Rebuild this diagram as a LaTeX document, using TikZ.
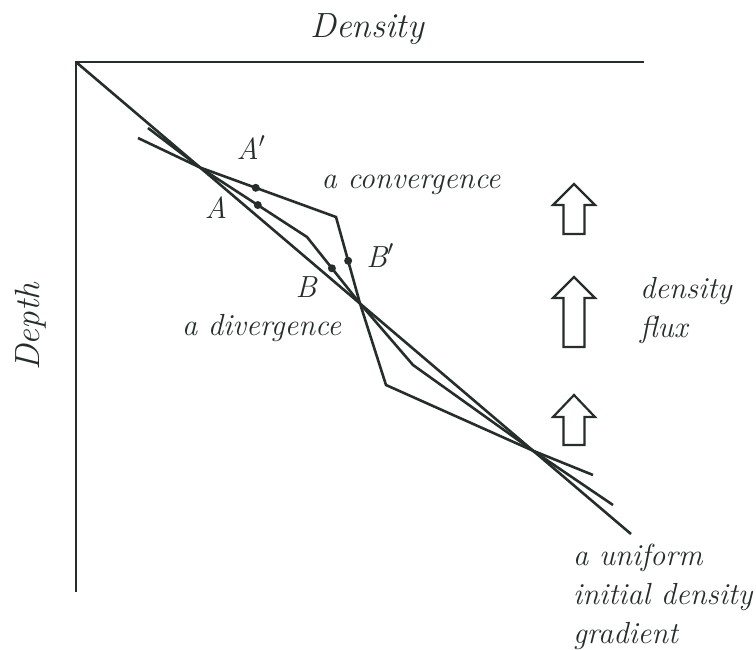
\documentclass[tikz,border=0pt]{standalone}
\usepackage{fix-cm}
\usepackage{fontspec}
\usetikzlibrary{calc}
\definecolor{ink}{RGB}{38,46,44}
\newcommand{\fluxarrow}[3]{%
  \draw[flux] (574,#1) -- (595,#2) -- (584.5,#2) -- (584.5,#3) -- (563.5,#3) -- (563.5,#2) -- (553,#2) -- cycle;}
\begin{document}
\begin{tikzpicture}[x=1pt,y=-1pt,
  ln/.style={draw=ink, line width=2.6pt, line join=miter},
  lbl/.style={font=\fontsize{30.5}{36}\selectfont\itshape, text=ink, inner sep=0pt, anchor=base},
  big/.style={font=\fontsize{35}{40}\selectfont\itshape, text=ink, inner sep=0pt},
  dotst/.style={circle, fill=ink, inner sep=0pt, minimum size=8pt},
  flux/.style={draw=ink, line width=2.2pt, fill=white, line join=miter}]
\useasboundingbox (0,0) rectangle (756,649);

% axes
\coordinate (O) at (76,62);
\coordinate (XE) at (644,62);
\coordinate (YE) at (76,592);
\draw[ln] (XE) -- (O) -- (YE);

% crossing points on the uniform gradient line
\coordinate (S) at (631,534);
\coordinate (X1) at (200,167.5);
\coordinate (X2) at (360,303.5);
\coordinate (X3) at (533,450.7);

% uniform initial gradient
\draw[ln] (O) -- (S);

% convergence profile
\coordinate (C0) at (138,138);
\coordinate (C1) at (336,217);
\coordinate (C2) at (386,385);
\coordinate (C3) at (593,475);
\draw[ln] (C0) -- (X1) -- (C1) -- (X2) -- (C2) -- (X3) -- (C3);

% divergence profile
\coordinate (D0) at (148,128);
\coordinate (D1) at (307,237);
\coordinate (D2) at (413,365);
\coordinate (D3) at (613,505);
\draw[ln] (D0) -- (X1) -- (D1) -- (X2) -- (D2) -- (X3) -- (D3);

% dots
\node[dotst] (pAp) at ($(X1)!0.41!(C1)$) {};
\node[dotst] (pA) at ($(X1)!0.54!(D1)$) {};
\node[dotst] (pB) at ($(D1)!0.47!(X2)$) {};
\node[dotst] (pBp) at ($(C1)!0.506!(X2)$) {};

% flux arrows
\fluxarrow{184}{205}{234}
\fluxarrow{277}{298}{347}
\fluxarrow{395}{417}{445}

% labels
\node[big, anchor=base] (tden) at (367,37) {Density};
\node[big, rotate=90] (tdep) at (31,327) {Depth};
\node[lbl] (lAp) at (251,159) {A$^{\prime}$};
\node[lbl] (lA) at (216,218) {A};
\node[lbl] (lB) at (306,297) {B};
\node[lbl] (lBp) at (380,267) {B$^{\prime}$};
\node[lbl] (lconv) at (411,188) {a convergence};
\node[lbl] (ldiv) at (261.5,335) {a divergence};
\node[lbl, anchor=base west] (lfl1) at (640,298) {density};
\node[lbl, anchor=base west] (lfl2) at (640,337) {flux};
\node[lbl, anchor=base west] (lu1) at (573,565) {a uniform};
\node[lbl, anchor=base west] (lu2) at (573,604) {initial density};
\node[lbl, anchor=base west] (lu3) at (573,643) {gradient};
\end{tikzpicture}
\end{document}
